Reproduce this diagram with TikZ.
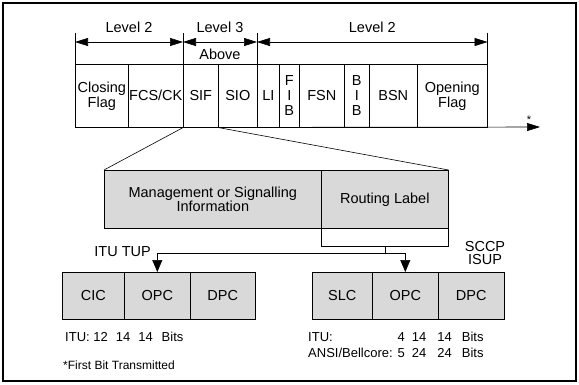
\documentclass[tikz,border=0pt]{standalone}
\usepackage{fontspec}
\setmainfont{Liberation Sans}
\usetikzlibrary{arrows.meta}
\definecolor{shade}{RGB}{217,217,217}
\tikzstyle{su diagram}=[
    x=1pt, y=-1pt,
    every node/.style={font={\fontsize{14.5}{15}\selectfont}},
    field/.style={draw, semithick, anchor=north west, inner sep=0pt, align=center},
    grey field/.style={field, fill=shade},
    dim/.style={semithick, {Triangle[length=13pt,width=8pt]}-{Triangle[length=13pt,width=8pt]}},
    level label/.style={above=9pt, inner sep=0pt},
    axis arrow/.style={semithick, -{Triangle[length=13pt,width=8pt]}},
    link/.style={semithick},
    link arrow/.style={semithick, -{Triangle[length=12pt,width=10pt]}},
    small text/.style={anchor=base west, inner sep=0pt, font={\fontsize{13}{16}\selectfont}},
]
\newcommand{\fieldrow}[4][field]{
    \foreach \n/\xa/\xb/\txt in {#4}{
        \node[#1, minimum width={(\xb-\xa)*1pt}, minimum height=#3] (\n) at (\xa,#2) {\txt};
    }
}

\begin{document}
\begin{tikzpicture}[su diagram]

    \useasboundingbox (0,0) rectangle (579,384);
    \draw[line width=2pt] (3,3) rectangle (576,381);

    \fieldrow{64}{63pt}{cf/75/128/{Closing\\Flag}, fcs/128/183/{FCS/CK}, sif/183/218/SIF, sio/218/257/SIO, li/257/279/LI, fib/279/299/{F\\I\\B}, fsn/299/344/FSN, bib/344/369/{B\\I\\B}, bsn/369/417/BSN, of/417/487/{Opening\\Flag}}

    \coordinate (top) at (0,33);
    \coordinate (dim) at (0,42);
    \coordinate (tx) at (540,127);
    \draw[link] (cf.north west) -- (cf.north west |- top);
    \draw[link] (sif.north west) -- (sif.north west |- top);
    \draw[link] (li.north west) -- (li.north west |- top);
    \draw[link] (of.north east) -- (of.north east |- top);
    \draw[dim] (cf.north west |- dim) -- node[level label] (l2a) {Level 2} (sif.north west |- dim);
    \draw[dim] (sif.north west |- dim) -- node[level label] (l3) {Level 3}
        node[below=7pt, inner sep=0pt] (above) {Above} (li.north west |- dim);
    \draw[dim] (li.north west |- dim) -- node[level label] (l2b) {Level 2} (of.north east |- dim);
    \draw[axis arrow] (cf.south west) -- (tx);
    \node[anchor=base, inner sep=0pt, font={\fontsize{11}{12}\selectfont}] (first) at (529,123) {*};

    \node[grey field, minimum width=217pt, minimum height=58pt, font={\fontsize{14.5}{13}\selectfont}] (info) at (104,170) {Management or Signalling\\Information};
    \node[grey field, minimum width=127pt, minimum height=58pt] (route) at (321,170) {Routing Label};
    \node[field, minimum width=127pt, minimum height=18pt] (tail) at (321,228) {};
    \draw[link] (sif.south west) -- (info.north west);
    \draw[link] (sif.south east) -- (route.north east);

    \fieldrow[grey field]{272}{47pt}{cic/62/124/CIC, opca/124/190/OPC, dpca/190/255/DPC, slc/312/372/SLC, opcb/372/438/OPC, dpcb/438/504/DPC}
    \draw[link] (tail.south) -- ++(0,7) coordinate (split);
    \draw[link arrow] (split) -| (opca.north);
    \draw[link arrow] (split) -| (opcb.north);

    \node[anchor=east, inner sep=0pt] (tup) at (151,252) {ITU TUP};
    \node[align=center, inner sep=0pt, font={\fontsize{14.5}{13.5}\selectfont}] (sccp) at (485,253) {SCCP\\ISUP};

    \node[small text] (bitsa) at (65,341) {ITU: 12\hspace{8pt}14\hspace{8pt}14\hspace{9pt}Bits};
    \node[small text] (bitsb) at (308,341) {\begin{tabular}[t]{@{}l@{\hspace{5pt}}r@{\hspace{7pt}}r@{\hspace{11pt}}r@{\hspace{10pt}}l@{}}
        ITU: & 4 & 14 & 14 & Bits\\
        ANSI/Bellcore: & 5 & 24 & 24 & Bits
    \end{tabular}};
    \node[small text, font={\fontsize{12}{14}\selectfont}] (note) at (63,369) {*First Bit Transmitted};

\end{tikzpicture}
\end{document}
